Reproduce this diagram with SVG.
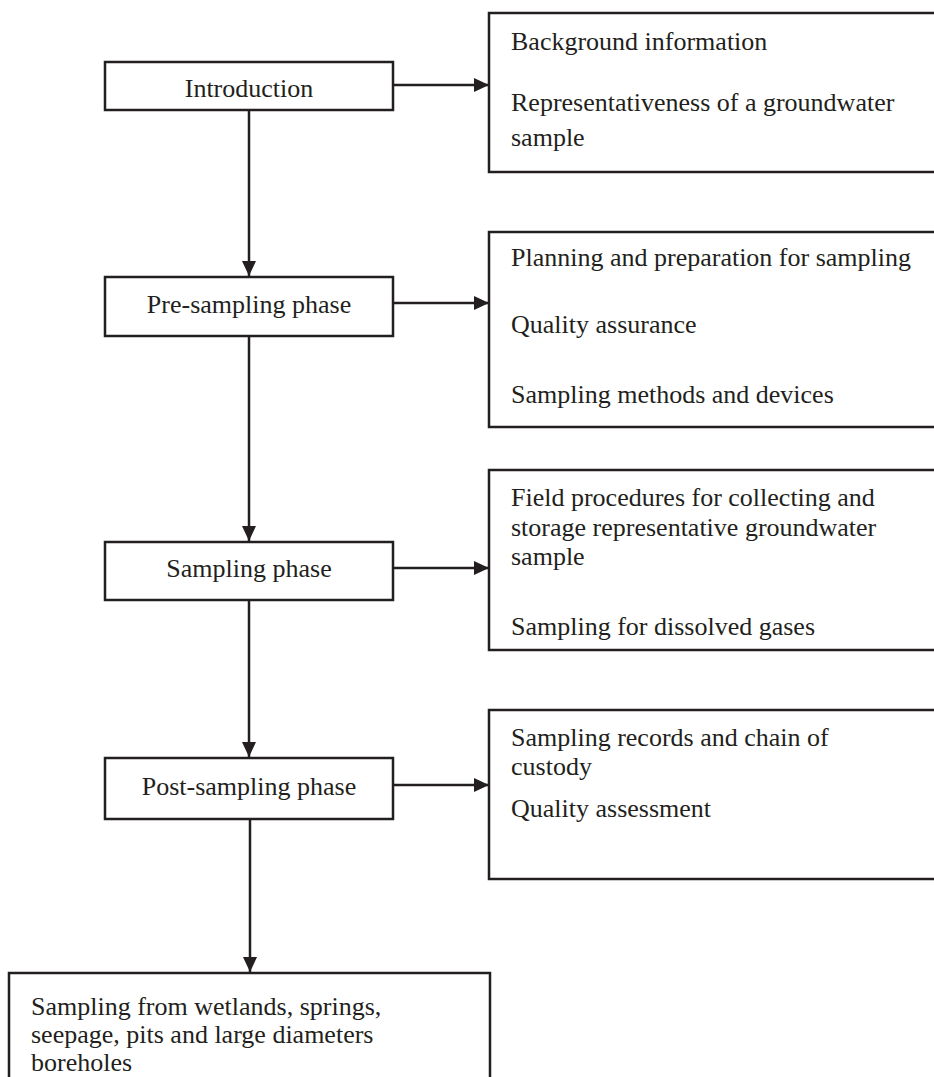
<svg xmlns="http://www.w3.org/2000/svg" width="934" height="1077" viewBox="0 0 934 1077">
  <style>
    .box { fill: #ffffff; stroke: #231f20; stroke-width: 2.5; }
    .lbl { font-family: "Liberation Serif", "Times New Roman", serif; font-size: 26px; fill: #231f20; }
    .mid { text-anchor: middle; }
    .wire { stroke: #231f20; stroke-width: 2.5; fill: none; marker-end: url(#head); }
  </style>
  <defs>
    <marker id="head" viewBox="0 0 15 14" refX="15" refY="7" markerWidth="15" markerHeight="14" markerUnits="userSpaceOnUse" orient="auto">
      <path d="M0,0 L15,7 L0,14 Z" fill="#231f20"/>
    </marker>
  </defs>
  <rect width="934" height="1077" fill="#ffffff"/>

  <!-- connectors -->
  <g id="connectors">
    <line class="wire" x1="249" y1="110" x2="249" y2="276"/>
    <line class="wire" x1="249" y1="336" x2="249" y2="541"/>
    <line class="wire" x1="249" y1="600" x2="249" y2="757"/>
    <line class="wire" x1="250" y1="819" x2="250" y2="972"/>
    <line class="wire" x1="393" y1="85" x2="489" y2="85"/>
    <line class="wire" x1="393" y1="303" x2="489" y2="303"/>
    <line class="wire" x1="393" y1="568" x2="489" y2="568"/>
    <line class="wire" x1="393" y1="785" x2="489" y2="785"/>
  </g>

  <!-- main phase column -->
  <g id="introduction">
    <rect class="box" x="105" y="62" width="288" height="48"/>
    <text class="lbl mid" x="249" y="97">Introduction</text>
  </g>
  <g id="pre-sampling">
    <rect class="box" x="105" y="277" width="288" height="59"/>
    <text class="lbl mid" x="249" y="313">Pre-sampling phase</text>
  </g>
  <g id="sampling">
    <rect class="box" x="105" y="542" width="288" height="58"/>
    <text class="lbl mid" x="249" y="577">Sampling phase</text>
  </g>
  <g id="post-sampling">
    <rect class="box" x="105" y="758" width="288" height="61"/>
    <text class="lbl mid" x="249" y="795">Post-sampling phase</text>
  </g>
  <g id="special-sources">
    <rect class="box" x="9" y="973" width="481" height="120"/>
    <text class="lbl" x="31" y="1015">Sampling from wetlands, springs,</text>
    <text class="lbl" x="31" y="1043">seepage, pits and large diameters</text>
    <text class="lbl" x="31" y="1071">boreholes</text>
  </g>

  <!-- topic boxes on the right -->
  <g id="intro-topics">
    <rect class="box" x="489" y="13" width="460" height="159"/>
    <text class="lbl" x="511" y="50">Background information</text>
    <text class="lbl" x="511" y="111">Representativeness of a groundwater</text>
    <text class="lbl" x="511" y="146">sample</text>
  </g>
  <g id="pre-sampling-topics">
    <rect class="box" x="489" y="232" width="460" height="195"/>
    <text class="lbl" x="511" y="266">Planning and preparation for sampling</text>
    <text class="lbl" x="511" y="333">Quality assurance</text>
    <text class="lbl" x="511" y="403">Sampling methods and devices</text>
  </g>
  <g id="sampling-topics">
    <rect class="box" x="489" y="470" width="460" height="180"/>
    <text class="lbl" x="511" y="506">Field procedures for collecting and</text>
    <text class="lbl" x="511" y="536">storage representative groundwater</text>
    <text class="lbl" x="511" y="565">sample</text>
    <text class="lbl" x="511" y="635">Sampling for dissolved gases</text>
  </g>
  <g id="post-sampling-topics">
    <rect class="box" x="489" y="710" width="460" height="169"/>
    <text class="lbl" x="511" y="746">Sampling records and chain of</text>
    <text class="lbl" x="511" y="775">custody</text>
    <text class="lbl" x="511" y="817"> Quality assessment</text>
  </g>
</svg>
